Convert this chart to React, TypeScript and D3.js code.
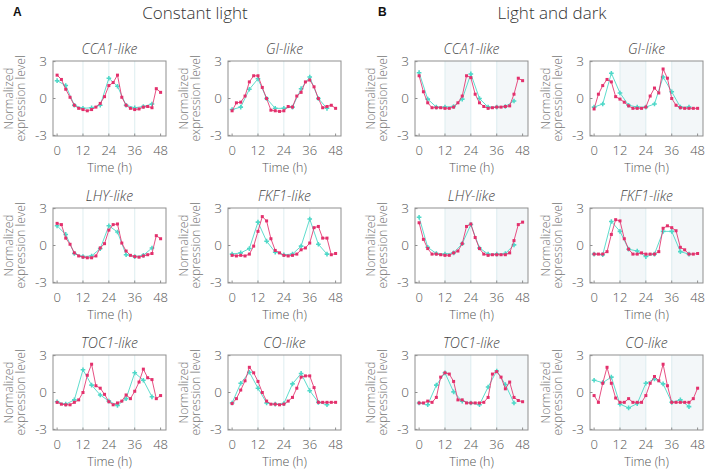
import React from "react";
import * as d3 from "d3";

// ---------- data ----------
const hoursMagenta = [0, 2, 4, 6, 8, 10, 12, 14, 16, 18, 20, 22, 24, 26, 28, 30, 32, 34, 36, 38, 40, 42, 44, 46, 48];
const hoursCyan = [0, 4, 8, 12, 16, 20, 24, 28, 32, 36, 40, 44];
const xTicks = [0, 12, 24, 36, 48];
const yTicks = [3, 0, -3];
const genes = ["CCA1-like", "GI-like", "LHY-like", "FKF1-like", "TOC1-like", "CO-like"];
const darkPeriods = [[12, 24], [36, 48]];

// Constant light (A)
const llCCA1m = [1.9, 1.55, 0.75, 0.1, -0.55, -0.8, -0.9, -1.0, -0.9, -0.7, -0.4, 0.15, 1.05, 1.3, 1.9, 0.1, -0.55, -0.8, -0.9, -0.85, -0.7, -0.65, -0.75, 0.8, 0.5];
const llCCA1c = [1.45, 1.05, -0.55, -0.8, -0.75, -0.55, 1.65, 1.0, -0.55, -0.75, -0.65, -0.45];
const llGIm = [-1.0, -0.35, -0.3, 0.2, 1.35, 1.85, 1.85, 0.9, 0.0, -0.95, -1.0, -1.05, -1.0, -0.65, -0.7, 0.2, 0.5, 1.35, 1.5, 0.95, 0.0, -0.75, -0.65, -0.55, -0.8];
const llGIc = [-0.9, -0.7, 0.75, 1.6, 0.0, -0.8, -0.8, -0.7, 0.8, 1.75, 0.0, -0.8];
const llLHYm = [1.8, 1.7, 0.6, 0.1, -0.6, -0.85, -0.95, -1.0, -1.0, -0.85, -0.2, 0.15, 1.25, 1.7, 1.75, 0.2, -0.45, -0.8, -0.9, -0.95, -0.85, -0.75, -0.65, 0.8, 0.55];
const llLHYc = [1.6, 0.9, -0.65, -0.9, -0.85, -0.25, 1.6, 1.1, -0.75, -0.9, -0.8, -0.2];
const llFKF1m = [-0.8, -0.85, -0.8, -0.85, -0.7, -0.05, 1.15, 2.35, 2.0, 0.55, -0.4, -0.6, -0.8, -0.85, -0.8, -0.7, -0.35, -0.2, 0.2, 1.45, 1.55, 0.6, 0.6, -0.75, -0.65];
const llFKF1c = [-0.7, -0.6, -0.25, 1.9, 0.35, -0.55, -0.75, -0.7, -0.05, 2.15, 0.1, -0.7];
const llTOC1m = [-0.8, -0.95, -1.0, -1.0, -0.8, -0.6, 0.0, 1.4, 2.3, 0.55, 0.35, -0.15, -0.75, -1.0, -0.85, -0.7, -0.2, -0.5, 0.1, 0.85, 1.9, 1.2, 1.05, -0.5, -0.25];
const llTOC1c = [-0.75, -0.95, -0.6, 1.85, 0.6, -0.2, -0.7, -1.05, -0.5, 1.6, 1.0, -0.35];
const llCOm = [-0.9, -0.5, 0.2, 0.95, 2.05, 1.6, 0.9, 0.0, -0.7, -0.95, -0.95, -1.0, -0.95, -0.7, -0.4, 0.35, 1.25, 1.35, 1.35, 0.4, -0.8, -0.8, -0.8, -0.8, -0.8];
const llCOc = [-0.85, 0.75, 1.65, 0.35, -0.85, -0.95, -0.9, 0.7, 1.55, 0.15, -0.8, -1.0];

// Light and dark (B)
const ldCCA1m = [1.85, 0.55, -0.35, -0.75, -0.75, -0.75, -0.8, -0.8, -0.7, -0.35, 0.2, 1.85, 1.7, 0.35, -0.35, -0.65, -0.8, -0.75, -0.7, -0.7, -0.65, -0.6, 0.35, 1.65, 1.45];
const ldCCA1c = [2.1, -0.05, -0.7, -0.7, -0.65, -0.05, 2.0, 0.0, -0.7, -0.7, -0.65, -0.2];
const ldGIm = [-0.85, 0.35, 1.05, 1.55, 1.35, 0.15, -0.05, -0.3, -0.6, -0.8, -0.8, -0.8, -0.7, 0.2, 0.85, 0.45, 2.4, 1.65, 0.0, -0.55, -0.75, -0.8, -0.8, -0.8, -0.8];
const ldGIc = [-0.7, -0.45, 2.05, 0.45, -0.55, -0.7, -0.7, -0.45, 1.75, 0.55, -0.7, -0.7];
const ldLHYm = [1.85, 0.5, -0.25, -0.7, -0.7, -0.75, -0.8, -0.8, -0.6, -0.45, 0.15, 1.55, 1.75, 0.65, -0.25, -0.7, -0.8, -0.75, -0.75, -0.75, -0.75, -0.6, 0.4, 1.7, 1.9];
const ldLHYc = [2.3, -0.15, -0.65, -0.7, -0.6, 0.15, 1.7, -0.2, -0.7, -0.7, -0.65, 0.05];
const ldFKF1m = [-0.7, -0.7, -0.7, -0.5, 0.9, 2.1, 2.0, 0.55, -0.3, -0.7, -0.7, -0.6, -0.7, -0.7, -0.7, -0.5, 1.4, 1.6, 1.45, 1.2, -0.15, -0.35, -0.7, -0.7, -0.65];
const ldFKF1c = [-0.7, -0.75, 1.95, 1.15, -0.3, -0.45, -0.9, -0.7, 1.15, 1.15, -0.5, -0.7];
const ldTOC1m = [-0.85, -0.85, -0.7, -0.8, -0.4, 1.25, 1.6, 1.5, 0.9, -0.6, -0.6, -0.85, -0.85, -0.85, -0.85, -0.8, -0.4, 1.5, 1.7, 1.25, 0.3, 0.85, -0.4, -0.65, -0.75];
const ldTOC1c = [-0.85, -1.0, 0.6, 1.6, 0.05, -0.7, -0.85, -1.0, 0.45, 1.75, 0.65, -0.85];
const ldCOm = [-0.25, -0.8, 0.75, 2.05, 0.75, -0.45, -0.8, -0.8, -0.5, -0.8, -0.8, -0.8, -0.25, 0.75, 1.3, 0.95, 2.3, 0.55, -0.8, -0.8, -0.8, -0.8, -0.8, -0.5, 0.35];
const ldCOc = [1.0, 0.8, 1.25, -0.95, -1.25, -0.9, 0.75, 1.1, 0.7, -0.8, -0.6, -1.15];

const llMagenta = [llCCA1m, llGIm, llLHYm, llFKF1m, llTOC1m, llCOm];
const llCyan = [llCCA1c, llGIc, llLHYc, llFKF1c, llTOC1c, llCOc];
const ldMagenta = [ldCCA1m, ldGIm, ldLHYm, ldFKF1m, ldTOC1m, ldCOm];
const ldCyan = [ldCCA1c, ldGIc, ldLHYc, ldFKF1c, ldTOC1c, ldCOc];

// ---------- layout ----------
const W = 708;
const H = 471;
const PW = 113;
const PH = 75;
const colX = [53, 228, 415, 590];
const rowY = [61, 208, 355];
const MAG = "#e3306c";
const CYAN = "#4ed8c8";
const FONT = "'Open Sans', 'DejaVu Sans', sans-serif";

type PanelProps = {
  x0: number;
  y0: number;
  title: string;
  mag: number[];
  cyan: number[];
  dark: boolean;
};

function Panel({ x0, y0, title, mag, cyan, dark }: PanelProps) {
  const x = d3.scaleLinear().domain([-1.9, 50.5]).range([x0, x0 + PW]);
  const y = d3.scaleLinear().domain([-3.05, 3.05]).range([y0 + PH, y0]);
  const line = d3
    .line<[number, number]>()
    .x((d) => x(d[0]))
    .y((d) => y(d[1]));
  const magPts: [number, number][] = hoursMagenta.map((h, i) => [h, mag[i]]);
  const cyPts: [number, number][] = hoursCyan.map((h, i) => [h, cyan[i]]);
  const cross = d3.symbol().type(d3.symbolCross).size(12)();
  const cx = x0 + PW / 2;
  const cy = y0 + PH / 2;
  return (
    <g>
      {dark &&
        darkPeriods.map(([a, b], i) => (
          <rect
            key={"d" + i}
            x={x(a)}
            y={y0}
            width={(i === darkPeriods.length - 1 ? x0 + PW : x(b)) - x(a)}
            height={PH}
            fill="#f3f7f9"
          />
        ))}
      {[12, 24, 36].map((t) => (
        <line key={"g" + t} x1={x(t)} x2={x(t)} y1={y0} y2={y0 + PH} stroke="#d6e8ec" strokeWidth={0.8} />
      ))}
      <rect x={x0} y={y0} width={PW} height={PH} fill="none" stroke="#8f8f8f" strokeWidth={1} />
      {yTicks.map((t) => (
        <g key={"yt" + t}>
          <line x1={x0} x2={x0 + 2.5} y1={y(t)} y2={y(t)} stroke="#8f8f8f" />
          <text x={x0 - 6} y={y(t)} dy="0.35em" textAnchor="end" fontSize={13.5} fill="#555" fontFamily={FONT} fontWeight={300}>
            {t}
          </text>
        </g>
      ))}
      {xTicks.map((t) => (
        <g key={"xt" + t}>
          <line x1={x(t)} x2={x(t)} y1={y0 + PH} y2={y0 + PH - 2.5} stroke="#8f8f8f" />
          <text x={x(t)} y={y0 + PH + 18.5} textAnchor="middle" fontSize={13} fill="#555" fontFamily={FONT} fontWeight={300}>
            {t}
          </text>
        </g>
      ))}
      <text x={cx} y={y0 + PH + 36} textAnchor="middle" fontSize={12.5} fill="#555" fontFamily={FONT} fontWeight={300}>
        Time (h)
      </text>
      <text x={cx} y={y0 - 7} textAnchor="middle" fontSize={14} fontStyle="italic" fill="#444" fontFamily={FONT} fontWeight={300}>
        {title}
      </text>
      <text
        transform={`translate(${x0 - 40},${cy}) rotate(-90)`}
        textAnchor="middle"
        fontSize={12}
        fill="#777"
        fontFamily={FONT}
        fontWeight={300}
      >
        Normalized
      </text>
      <text
        transform={`translate(${x0 - 28},${cy}) rotate(-90)`}
        textAnchor="middle"
        fontSize={12}
        fill="#777"
        fontFamily={FONT}
        fontWeight={300}
      >
        expression level
      </text>
      <path d={line(cyPts) || ""} fill="none" stroke={CYAN} strokeWidth={1} opacity={0.9} />
      {cyPts.map((p, i) => (
        <path key={"c" + i} d={cross || ""} transform={`translate(${x(p[0])},${y(p[1])})`} fill={CYAN} />
      ))}
      <path d={line(magPts) || ""} fill="none" stroke={MAG} strokeWidth={1} opacity={0.85} />
      {magPts.map((p, i) => (
        <rect key={"m" + i} x={x(p[0]) - 1.5} y={y(p[1]) - 1.5} width={3} height={3} fill={MAG} />
      ))}
    </g>
  );
}

export default function App() {
  const panels: React.ReactNode[] = [];
  genes.forEach((g, i) => {
    const r = Math.floor(i / 2);
    const c = i % 2;
    panels.push(
      <Panel key={"a" + i} x0={colX[c]} y0={rowY[r]} title={g} mag={llMagenta[i]} cyan={llCyan[i]} dark={false} />
    );
    panels.push(
      <Panel key={"b" + i} x0={colX[c + 2]} y0={rowY[r]} title={g} mag={ldMagenta[i]} cyan={ldCyan[i]} dark={true} />
    );
  });
  return (
    <svg
      width={W}
      height={H}
      viewBox={`0 0 ${W} ${H}`}
      style={{ position: "absolute", left: 0, top: 0, background: "#fff" }}
    >
      <rect width={W} height={H} fill="#fff" />
      <text x={13} y={16} fontSize={12} fontWeight={700} fontFamily="'Liberation Sans', Arial, sans-serif" fill="#111">
        A
      </text>
      <text x={378} y={16} fontSize={12} fontWeight={700} fontFamily="'Liberation Sans', Arial, sans-serif" fill="#111">
        B
      </text>
      <text x={195} y={19} textAnchor="middle" fontSize={17} fill="#333" fontFamily={FONT} fontWeight={300}>
        Constant light
      </text>
      <text x={552} y={19} textAnchor="middle" fontSize={17} fill="#333" fontFamily={FONT} fontWeight={300}>
        Light and dark
      </text>
      {panels}
    </svg>
  );
}
